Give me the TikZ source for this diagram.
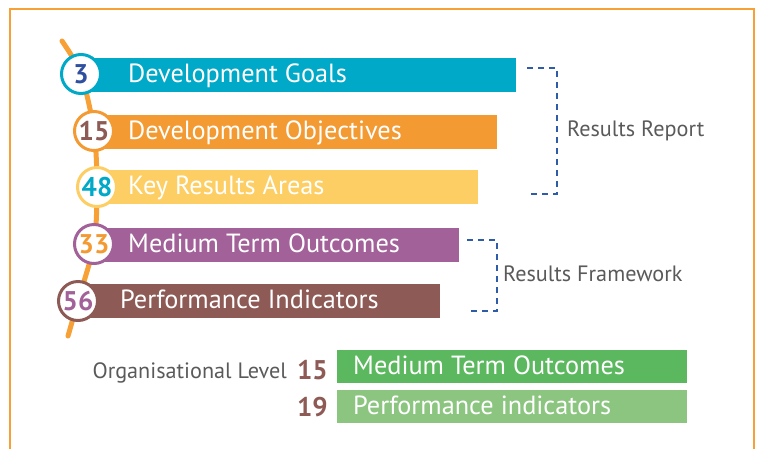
\documentclass[tikz,border=0pt]{standalone}
\usepackage{fontspec}
\setmainfont{PT Sans}
\usetikzlibrary{positioning}

\definecolor{tealC}{HTML}{00A9C7}
\definecolor{orangeC}{HTML}{F39A33}
\definecolor{spineC}{HTML}{F7A035}
\definecolor{yellowC}{HTML}{FDCE63}
\definecolor{purpleC}{HTML}{A26198}
\definecolor{brownC}{HTML}{8D5A55}
\definecolor{blueN}{HTML}{2F4F9F}
\definecolor{dashC}{HTML}{2E5CA8}
\definecolor{greenA}{HTML}{5CB85F}
\definecolor{greenB}{HTML}{8BC580}
\definecolor{grayT}{HTML}{5A5A5A}

\begin{document}
\begin{tikzpicture}[x=1pt, y=-1pt]
	% Stili
	\tikzset{
		barra/.style={anchor=west, rectangle, minimum height=34pt, inner sep=0pt},
		testo/.style={anchor=west, text=white, inner sep=0pt, text height=19pt, text depth=4pt, font=\fontsize{26.3}{26}\selectfont},
		cerchio/.style={circle, fill=white, line width=3pt, minimum size=39pt, inner sep=0pt, font=\fontsize{27}{27}\selectfont\bfseries},
		etichetta/.style={anchor=west, text=grayT, inner sep=0pt, text height=16pt, text depth=4pt, font=\fontsize{22.2}{22}\selectfont},
		numero/.style={anchor=east, inner sep=0pt, text=brownC, font=\fontsize{27}{27}\selectfont\bfseries},
		tratteggio/.style={draw=dashC, line width=2.5pt, dash pattern=on 6pt off 5pt}
	}
	
	% Area e cornice
	\useasboundingbox (0,0) rectangle (760,448);
	\draw[spineC, line width=2.5pt] (10,470) |- (754,9) -- (754,470);
	
	% Centri dei cerchi
	\coordinate (s0) at (62,41);
	\coordinate (p1) at (81,74);
	\coordinate (p2) at (94,131);
	\coordinate (p3) at (97,187);
	\coordinate (p4) at (94,244);
	\coordinate (p5) at (78,301);
	\coordinate (s6) at (68,336);
	
	% Linea verticale
	\draw[spineC, line width=5pt, line cap=round] plot[smooth, tension=0.5] coordinates {(s0) (p1) (p2) (p3) (p4) (p5) (s6)};
	
	% Barre
	\node[barra, fill=tealC, minimum width=435pt] (b1) at (81,75) {};
	\node[barra, fill=orangeC, minimum width=403pt] (b2) at (94,132) {};
	\node[barra, fill=yellowC, minimum width=381pt] (b3) at (97,187) {};
	\node[barra, fill=purpleC, minimum width=365pt] (b4) at (94,245) {};
	\node[barra, fill=brownC, minimum width=362pt] (b5) at (78,301) {};
	
	\node[testo] (t1) at (128,75) {Development Goals};
	\node[testo] (t2) at (128,132) {Development Objectives};
	\node[testo] (t3) at (128,187) {Key Results Areas};
	\node[testo] (t4) at (128,245) {Medium Term Outcomes};
	\node[testo] (t5) at (120,301) {Performance Indicators};
	
	% Cerchi con i numeri
	\node[cerchio, draw=tealC, text=blueN] (c1) at (p1) {3};
	\node[cerchio, draw=orangeC, text=brownC] (c2) at (p2) {15};
	\node[cerchio, draw=yellowC, text=tealC] (c3) at (p3) {48};
	\node[cerchio, draw=purpleC, text=orangeC] (c4) at (p4) {33};
	\node[cerchio, draw=brownC, text=purpleC] (c5) at (p5) {56};
	
	% Parentesi tratteggiate
	\coordinate (r1) at (527,68);
	\coordinate (r2) at (527,194);
	\coordinate (f1) at (467,240);
	\coordinate (f2) at (467,311);
	\draw[tratteggio] (r1) -- (557,68) -- (557,194) -- (r2);
	\draw[tratteggio] (f1) -- (497,240) -- (497,311) -- (f2);
	\node[etichetta] (report) at (567,130) {Results Report};
	\node[etichetta] (framework) at (503,275) {Results Framework};
	
	% Livello organizzativo
	\node[barra, fill=greenA, minimum width=350pt, minimum height=33pt] (g1) at (337,366.5) {};
	\node[barra, fill=greenB, minimum width=350pt, minimum height=33pt] (g2) at (337,406.5) {};
	\node[testo] (u1) at (353,366.5) {Medium Term Outcomes};
	\node[testo] (u2) at (353,406.5) {Performance indicators};
	\node[numero] (n1) at (328,370) {15};
	\node[numero] (n2) at (328,407) {19};
	\node[etichetta, anchor=east] (livello) at (287,372) {Organisational Level};
\end{tikzpicture}
\end{document}
